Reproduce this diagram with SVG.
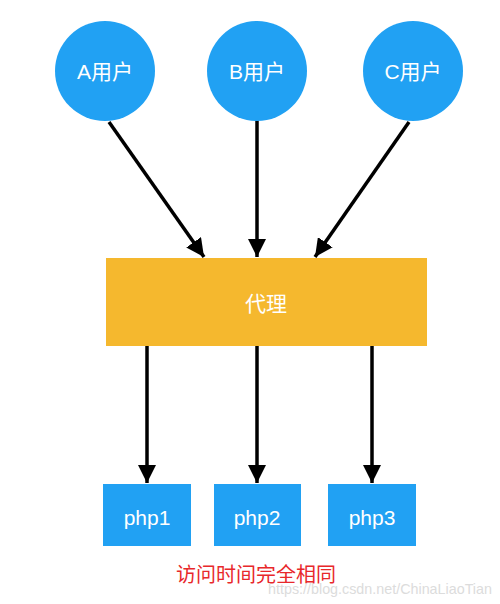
<svg xmlns="http://www.w3.org/2000/svg" width="500" height="604" viewBox="0 0 500 604">
<style>
.user{fill:#21A1F3}
.php{fill:#21A1F3}
.proxy{fill:#F5B82E}
.lbl{font-family:"Helvetica Neue","Liberation Sans","Noto Sans CJK SC",sans-serif;font-size:21px;fill:#ffffff;text-anchor:middle;dominant-baseline:central}
.conn{stroke:#000;stroke-width:3.5;fill:none;marker-end:url(#arr)}
.note{font-family:"Liberation Sans","Noto Sans CJK SC",sans-serif;font-size:20px;fill:#E8282B}
.wm{font-family:"Liberation Sans",sans-serif;font-size:15px;fill:#dcdcdc}
</style>
<defs>
<marker id="arr" viewBox="0 0 18 18" refX="18" refY="9" markerWidth="18" markerHeight="18" markerUnits="userSpaceOnUse" orient="auto">
<path d="M0,0 L18,9 L0,18 Z" fill="#000"/>
</marker>
</defs>
<rect width="500" height="604" fill="#fff"/>
<g id="connectors">
<line class="conn" x1="109" y1="122" x2="204" y2="257"/>
<line class="conn" x1="257" y1="120" x2="257" y2="257"/>
<line class="conn" x1="409" y1="122" x2="315" y2="257"/>
<line class="conn" x1="147" y1="346" x2="147" y2="483"/>
<line class="conn" x1="257" y1="346" x2="257" y2="483"/>
<line class="conn" x1="372" y1="346" x2="372" y2="483"/>
</g>
<g id="userA"><circle class="user" cx="105" cy="71" r="50"/><text class="lbl" x="105" y="71">A用户</text></g>
<g id="userB"><circle class="user" cx="257" cy="71" r="50"/><text class="lbl" x="257" y="71">B用户</text></g>
<g id="userC"><circle class="user" cx="413" cy="71" r="50"/><text class="lbl" x="413" y="71">C用户</text></g>
<g id="proxy"><rect class="proxy" x="106" y="258" width="321" height="88"/><text class="lbl" x="266" y="303">代理</text></g>
<g id="php1"><rect class="php" x="103" y="484" width="88" height="62"/><text class="lbl" x="147" y="517">php1</text></g>
<g id="php2"><rect class="php" x="214" y="484" width="87" height="62"/><text class="lbl" x="257" y="517">php2</text></g>
<g id="php3"><rect class="php" x="328" y="484" width="88" height="62"/><text class="lbl" x="372" y="517">php3</text></g>
<text class="note" x="176" y="582">访问时间完全相同</text>
<text class="wm" x="268" y="594" textLength="224" lengthAdjust="spacingAndGlyphs">https://blog.csdn.net/ChinaLiaoTian</text>
</svg>
